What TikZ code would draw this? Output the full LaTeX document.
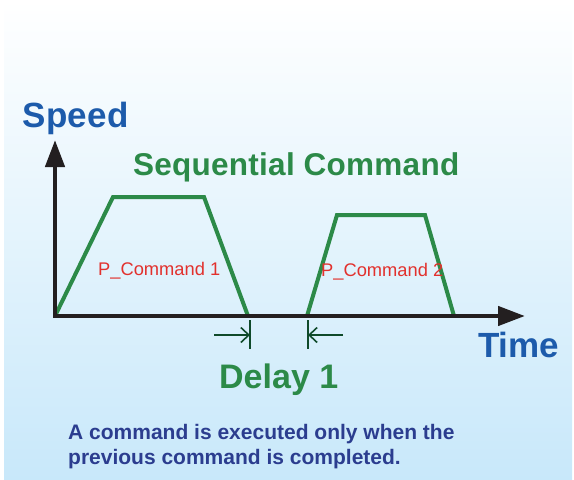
\documentclass[tikz,border=0pt]{standalone}
\usepackage{fontspec}
\setmainfont{Liberation Sans}
\usetikzlibrary{arrows.meta}
\definecolor{bgblue}{HTML}{C8E8FA}
\definecolor{axisblack}{HTML}{231F20}
\definecolor{cmdgreen}{HTML}{2C8A48}
\definecolor{delaygreen}{HTML}{0F4A2A}
\definecolor{lblblue}{HTML}{1D5BAB}
\definecolor{lblred}{HTML}{E2312D}
\definecolor{notenavy}{HTML}{2B3D8F}
\newcommand{\fsz}[1]{\fontsize{#1}{#1}\selectfont}
\begin{document}
\begin{tikzpicture}[x=1pt,y=-1pt]
  \tikzstyle{every node}=[anchor=base west,inner sep=0pt]
  \tikzstyle{axis}=[line width=4.5pt,draw=axisblack,line join=miter,
    {Triangle[length=27pt,width=19pt]}-{Triangle[length=27pt,width=19pt]}]
  \tikzstyle{profile}=[line width=4pt,draw=cmdgreen,line join=miter]
  \tikzstyle{delay}=[line width=1.6pt,draw=delaygreen]
  \tikzstyle{barb}=[delay,-{Straight Barb[length=8pt,width=15pt]}]
  \useasboundingbox (0,0) rectangle (574,480);
  \shade [top color=white,bottom color=bgblue] (4,0) rectangle (572,480);
  % axes
  \coordinate (o) at (55,316);
  \coordinate (ytop) at (55,140);
  \coordinate (xend) at (525,316);
  % speed profiles
  \draw [profile] (o) -- (113,197) -- (204,197) -- (248,316);
  \draw [profile] (307,316) -- (337,215) -- (425,215) -- (454,316);
  \draw [axis] (ytop) -- (o) -- (xend);
  % delay marks
  \coordinate (d1) at (250,335);
  \coordinate (d2) at (308,335);
  \coordinate (d1l) at (214,335);
  \coordinate (d2r) at (343,335);
  \draw [delay] (250,320) -- (250,349);
  \draw [delay] (308,320) -- (308,349);
  \draw [barb] (d1l) -- (d1);
  \draw [barb] (d2r) -- (d2);
  % labels
  \node [text=lblblue,font=\fsz{35}\bfseries\addfontfeature{LetterSpace=1.5}] (spd) at (22,127) {Speed};
  \node [text=lblblue,font=\fsz{35}\bfseries] (tm) at (478,357) {Time};
  \node [text=cmdgreen,font=\fsz{31.5}\bfseries\addfontfeature{LetterSpace=0.8}] (seq) at (133,175) {Sequential Command};
  \node [text=cmdgreen,font=\fsz{34}\bfseries] (dly) at (219,388) {Delay 1};
  \node [text=lblred,font=\fsz{18.3}] (pc1) at (98,275) {P\_Command 1};
  \node [text=lblred,font=\fsz{18.3}] (pc2) at (321,276) {P\_Command 2};
  \node [text=notenavy,font=\fsz{21}\bfseries] (note1) at (68,439) {A command is executed only when the};
  \node [text=notenavy,font=\fsz{21}\bfseries] (note2) at (68,464) {previous command is completed.};
\end{tikzpicture}
\end{document}
